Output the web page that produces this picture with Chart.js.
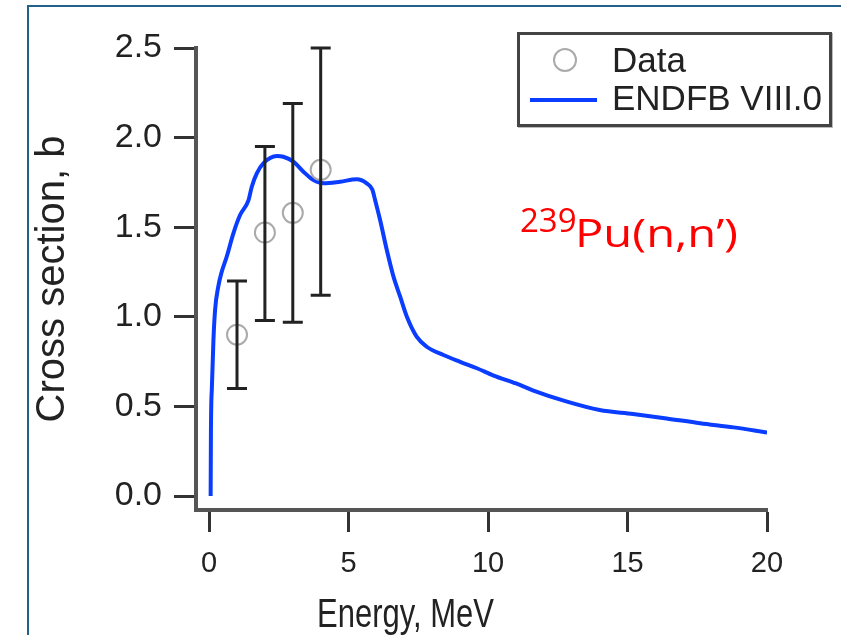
<!DOCTYPE html>
<html lang="en">
<head>
  <meta charset="UTF-8">
  <title>239Pu(n,n') cross section</title>
  <script src="https://cdn.jsdelivr.net/npm/chart.js"></script>
  <style>
    body {
      margin: 0;
      background: #fff;
      font-family: 'Liberation Sans', Arial, sans-serif;
    }

    #wrap {
      position: relative;
      width: 841px;
      height: 635px;
      overflow: hidden;
    }

    #frame {
      position: absolute;
      left: 27px;
      top: 5px;
      width: 840px;
      height: 660px;
      border-top: 2px solid #21618c;
      border-left: 2px solid #21618c;
    }

    #chartBox {
      position: absolute;
      left: 0;
      top: 0;
      width: 841px;
      height: 635px;
    }

    .legend {
      position: absolute;
      left: 517px;
      top: 32px;
      width: 315px;
      height: 95px;
      box-sizing: border-box;
      border: 3px solid #444;
      background: #fff;
      box-shadow: 1px 1px 0 #bbb;
    }

    .lg-text {
      position: absolute;
      left: 612px;
      font-size: 35px;
      line-height: 1;
      color: #222;
      white-space: nowrap;
    }

    .lg-circle {
      position: absolute;
      left: 553px;
      top: 48px;
      width: 24px;
      height: 24px;
      box-sizing: border-box;
      border: 2px solid #aaa;
      border-radius: 50%;
    }

    .lg-line {
      position: absolute;
      left: 530px;
      top: 98px;
      width: 67px;
      height: 4px;
      background: #0a3dff;
    }

    .x-title {
      position: absolute;
      left: 317px;
      top: 601px;
      font-size: 31px;
      line-height: 1;
      color: #222;
      white-space: nowrap;
      transform-origin: 0 26px;
      transform: scaleY(1.3);
    }

    .reaction {
      position: absolute;
      font-family: 'Open Sans', sans-serif;
      color: #ff0000;
      line-height: 1;
      white-space: nowrap;
    }
  </style>
</head>
<body>
  <div id="wrap">
    <div id="chartBox"><canvas id="chart"></canvas></div>
    <div id="frame"></div>

    <div class="legend"></div>
    <div class="lg-circle"></div>
    <div class="lg-text" style="top:42px">Data</div>
    <div class="lg-line"></div>
    <div class="lg-text" style="top:80px">ENDFB VIII.0</div>

    <div class="x-title">Energy, MeV</div>

    <div class="reaction" style="left:520px; top:203px; font-size:33px;">239</div>
    <div class="reaction" style="left:575px; top:213px; font-size:38px; transform-origin:0 0; transform:scaleX(1.24);">Pu(n,n’)</div>
  </div>

  <script>
    // ENDF/B-VIII.0 evaluated curve
    const curveEnergy = [0.055, 0.065, 0.10, 0.155, 0.215, 0.33, 0.45, 0.63, 0.87, 1.11, 1.41, 1.53, 1.71, 1.95,
                         2.43, 2.66, 3.02, 3.38, 3.74, 4.10, 4.70, 5.29, 5.65, 5.85, 5.95, 6.13, 6.37, 6.61, 6.85,
                         7.09, 7.44, 7.80, 8.40, 9.00, 9.60, 10.20, 11.00, 11.60, 12.80, 14.00, 15.20, 16.40,
                         17.60, 18.80, 20.00];
    const curveXS = [0.00, 0.35, 0.61, 0.87, 1.04, 1.17, 1.25, 1.335, 1.466, 1.568, 1.65, 1.726, 1.80, 1.857,
                     1.897, 1.893, 1.866, 1.81, 1.763, 1.745, 1.754, 1.767, 1.745, 1.71, 1.652, 1.54, 1.373, 1.224, 1.112,
                     1.00, 0.889, 0.833, 0.787, 0.749, 0.713, 0.672, 0.628, 0.59, 0.528, 0.48, 0.458, 0.433,
                     0.406, 0.383, 0.355];

    // measured points with error bars
    const dataEnergy = [1, 2, 3, 4];
    const dataXS = [0.90, 1.47, 1.58, 1.82];
    const errLow = [0.60, 0.98, 0.97, 1.12];
    const errHigh = [1.20, 1.95, 2.19, 2.50];

    const xTickValues = [0, 5, 10, 15, 20];
    const yTickValues = [0, 0.5, 1.0, 1.5, 2.0, 2.5];

    const axisFont = "'Liberation Sans', Arial, sans-serif";

    const errorBars = {
      id: 'errorBars',
      afterDatasetsDraw(chart) {
        const ctx = chart.ctx;
        const xs = chart.scales.x;
        const ys = chart.scales.y;
        ctx.save();
        ctx.strokeStyle = '#222';
        ctx.lineWidth = 3;
        dataEnergy.forEach((e, i) => {
          const px = xs.getPixelForValue(e);
          const top = ys.getPixelForValue(errHigh[i]);
          const bot = ys.getPixelForValue(errLow[i]);
          ctx.beginPath();
          ctx.moveTo(px, top);
          ctx.lineTo(px, bot);
          ctx.moveTo(px - 10, top);
          ctx.lineTo(px + 10, top);
          ctx.moveTo(px - 10, bot);
          ctx.lineTo(px + 10, bot);
          ctx.stroke();
        });
        ctx.restore();
      }
    };

    new Chart(document.getElementById('chart'), {
      type: 'scatter',
      data: {
        datasets: [
          {
            label: 'Data',
            data: dataEnergy.map((e, i) => ({ x: e, y: dataXS[i] })),
            pointRadius: 10,
            pointBorderWidth: 2,
            pointBorderColor: '#aaa',
            pointBackgroundColor: 'rgba(0,0,0,0)'
          },
          {
            label: 'ENDFB VIII.0',
            data: curveEnergy.map((e, i) => ({ x: e, y: curveXS[i] })),
            showLine: true,
            pointRadius: 0,
            borderColor: '#0a3dff',
            borderWidth: 4,
            cubicInterpolationMode: 'monotone'
          }
        ]
      },
      options: {
        responsive: true,
        maintainAspectRatio: false,
        animation: false,
        layout: { padding: { left: 0, top: 48, right: 74, bottom: 0 } },
        plugins: {
          legend: { display: false },
          tooltip: { enabled: false }
        },
        scales: {
          x: {
            type: 'linear',
            min: -0.47,
            max: 20,
            afterBuildTicks: s => { s.ticks = xTickValues.map(v => ({ value: v })); },
            afterFit: s => { s.height = 125; },
            grid: { drawOnChartArea: false, tickLength: 22, tickWidth: 3, tickColor: '#333' },
            border: { display: true, color: '#555', width: 4 },
            ticks: {
              color: '#222',
              padding: 15,
              maxRotation: 0,
              font: { family: axisFont, size: 29 }
            }
          },
          y: {
            type: 'linear',
            min: -0.078,
            max: 2.5,
            afterBuildTicks: s => { s.ticks = yTickValues.map(v => ({ value: v })); },
            afterFit: s => { s.width = 196; },
            grid: { drawOnChartArea: false, tickLength: 22, tickWidth: 3, tickColor: '#333' },
            border: { display: true, color: '#555', width: 4 },
            ticks: {
              color: '#222',
              padding: 12,
              font: { family: axisFont, size: 34 },
              callback: v => v.toFixed(1)
            },
            title: {
              display: true,
              text: 'Cross section, b',
              color: '#222',
              padding: { top: 29, bottom: 0 },
              font: { family: axisFont, size: 40 }
            }
          }
        }
      },
      plugins: [errorBars]
    });
  </script>
</body>
</html>
